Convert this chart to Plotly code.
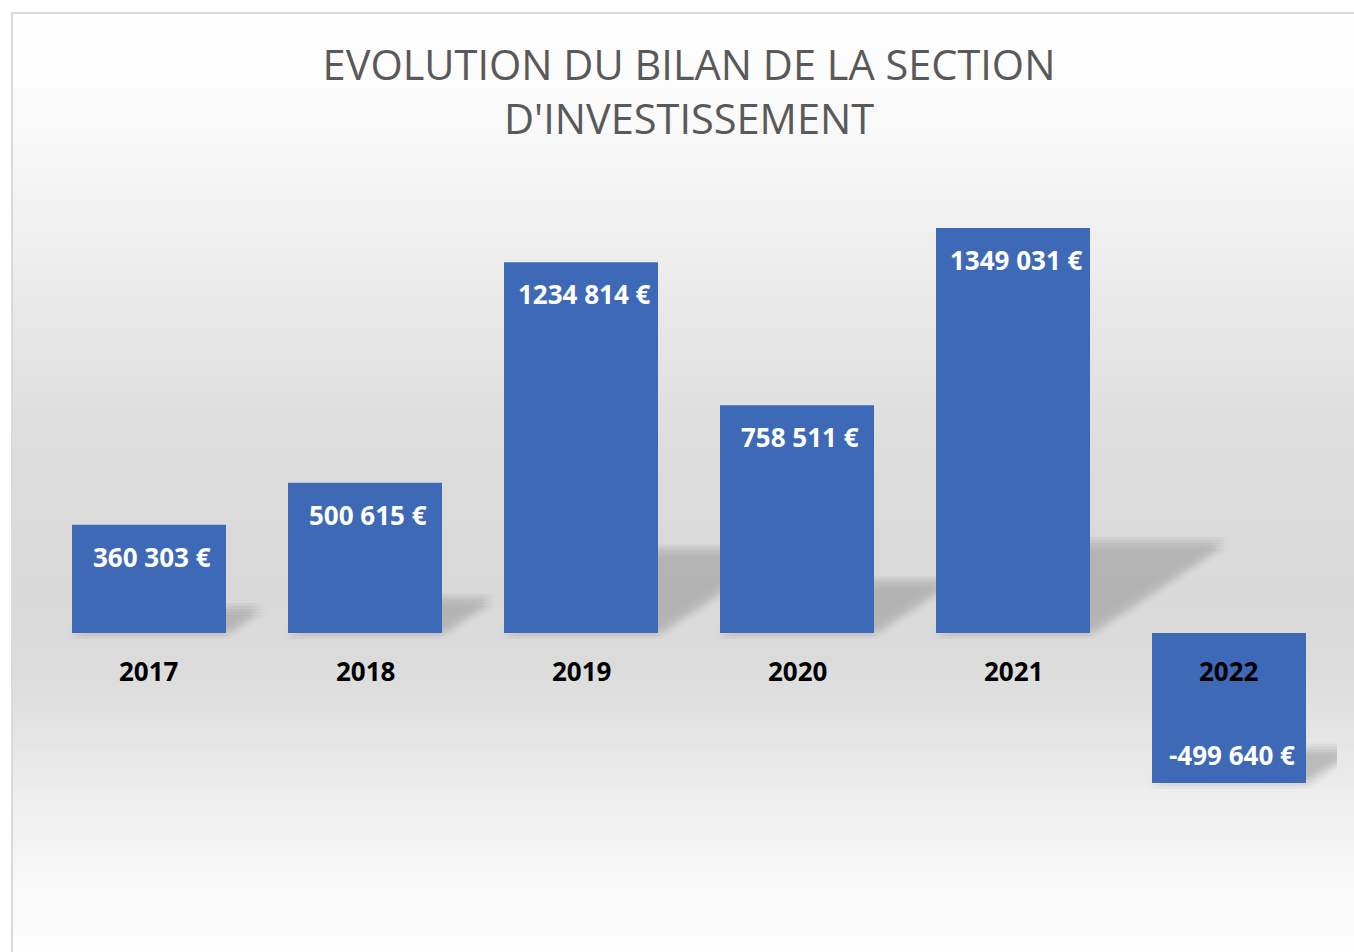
import plotly.graph_objects as go

# ---------------- data ----------------
years = ["2017", "2018", "2019", "2020", "2021", "2022"]
values = [360303, 500615, 1234814, 758511, 1349031, -499640]
title_text = "EVOLUTION DU BILAN DE LA SECTION<br>D'INVESTISSEMENT"

# ---------------- layout constants ----------------
W, H = 1354, 952
ML, MR, MT, MB = 41, 17, 160, 52
PLOT_W = W - ML - MR
PLOT_H = H - MT - MB
Y_RANGE = [-889350, 1575500]
PX_PER_UNIT = PLOT_H / (Y_RANGE[1] - Y_RANGE[0])
PX_PER_CAT = PLOT_W / len(years)
BAR_W = 0.713
BAR_COLOR = "#3d69b7"
FONT = "Open Sans"


def fmt(v):
    sign = "-" if v < 0 else ""
    a = abs(v)
    return f"{sign}{a // 1000} {a % 1000:03d} €"


# pixel -> paper conversions
def px_to_paper_x(px):
    return (px - ML) / PLOT_W


def px_to_paper_y(py):
    return (H - MB - py) / PLOT_H


xs = list(range(len(years)))

fig = go.Figure()
fig.add_trace(go.Bar(
    x=xs, y=values, width=BAR_W,
    marker=dict(color=BAR_COLOR, line=dict(width=0)),
    hoverinfo="skip", showlegend=False,
))

shapes = []

# background gradient (chart area fill)
stops = [(12, 255), (100, 251), (200, 243), (300, 233), (400, 224), (500, 219),
         (600, 217), (660, 219), (720, 226), (800, 238), (870, 247), (952, 253)]


def gray_at(py):
    for (y0, g0), (y1, g1) in zip(stops[:-1], stops[1:]):
        if y0 <= py <= y1:
            t = (py - y0) / (y1 - y0)
            return round(g0 + (g1 - g0) * t)
    return stops[-1][1]


step = 4
py = 13
while py < 960:
    g = gray_at(py + step / 2)
    shapes.append(dict(
        type="rect", xref="paper", yref="paper", layer="below",
        x0=px_to_paper_x(12), x1=px_to_paper_x(1370),
        y0=px_to_paper_y(py + step + 0.5), y1=px_to_paper_y(py),
        fillcolor=f"rgb({g},{g},{g})", line=dict(width=0),
    ))
    py += step

# frame border
shapes.append(dict(
    type="rect", xref="paper", yref="paper", layer="below",
    x0=px_to_paper_x(12), x1=px_to_paper_x(1380),
    y0=px_to_paper_y(980), y1=px_to_paper_y(13),
    fillcolor="rgba(0,0,0,0)", line=dict(color="#d9d9d9", width=2),
))

# perspective shadows behind the bars (derived from the values)
offs = [-6, -3, 0, 3, 6]
for i, v in enumerate(values):
    h = abs(v) * 0.222
    dx = 1.5 * h * PX_PER_UNIT / PX_PER_CAT
    base = 0 if v > 0 else v
    x0, x1 = i - BAR_W / 2, i + BAR_W / 2
    for ox in offs:
        for oy in offs:
            ocx = ox / PX_PER_CAT
            ocy = oy / PX_PER_UNIT
            path = (f"M {x0 + ocx},{base + ocy} L {x1 + ocx},{base + ocy} "
                    f"L {x1 + dx + ocx},{base + h + ocy} L {x0 + dx + ocx},{base + h + ocy} Z")
            shapes.append(dict(
                type="path", xref="x", yref="y", layer="below", path=path,
                fillcolor="rgb(105,105,105)", opacity=0.017, line=dict(width=0),
            ))

annotations = []
for i, (yr, v) in enumerate(zip(years, values)):
    annotations.append(dict(
        x=i, y=v, xref="x", yref="y", text=fmt(v), showarrow=False,
        xanchor="center", yanchor="middle", xshift=3,
        yshift=-32 if v > 0 else 28,
        font=dict(family=FONT, size=26, color="white", weight="bold"),
    ))
    annotations.append(dict(
        x=i, y=0, xref="x", yref="y", text=yr, showarrow=False,
        xanchor="center", yanchor="middle", yshift=-38,
        font=dict(family=FONT, size=26, color="black", weight="bold"),
    ))

fig.update_layout(
    width=W, height=H, autosize=False,
    margin=dict(l=ML, r=MR, t=MT, b=MB, pad=0),
    paper_bgcolor="white", plot_bgcolor="rgba(0,0,0,0)",
    title=dict(text=title_text, x=0.5, xref="paper", xanchor="center",
               y=1 - 80 / H, yref="container", yanchor="top",
               font=dict(family=FONT, size=41.5, color="#595959")),
    xaxis=dict(range=[-0.5, len(years) - 0.5], showgrid=False, zeroline=False,
               showticklabels=False, showline=False, ticks="", fixedrange=True),
    yaxis=dict(range=Y_RANGE, showgrid=False, zeroline=False,
               showticklabels=False, showline=False, ticks="", fixedrange=True),
    shapes=shapes, annotations=annotations, showlegend=False,
)

fig.write_html(
    "out.html",
    config={"displayModeBar": False},
    post_script="document.body.style.margin='0';document.body.style.overflow='hidden';",
)
